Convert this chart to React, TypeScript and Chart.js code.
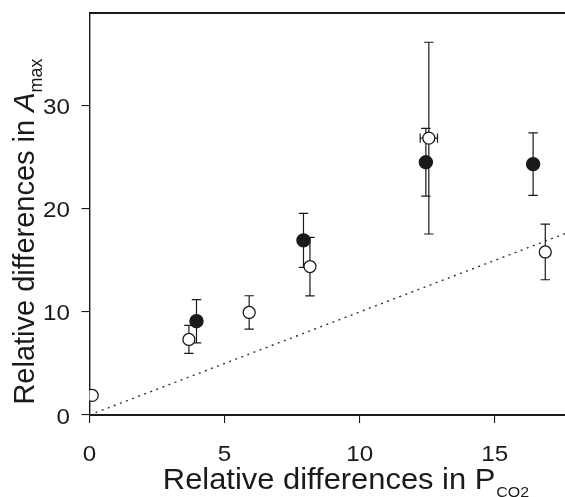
import { useEffect, useRef } from "react";
import { Chart, registerables } from "chart.js";

Chart.register(...registerables);

// ---- data ----
const xTickValues = [0, 5, 10, 15];
const yTickValues = [0, 10, 20, 30];
const xRange = [0, 17.6];
const yRange = [0, 39];

// filled circles
const filledX = [3.96, 7.92, 12.45, 16.42];
const filledY = [9.1, 16.94, 24.52, 24.34];
const filledYErr = [2.1, 2.62, 3.28, 3.03];

// open circles
const openX = [0.1, 3.68, 5.91, 8.16, 12.56, 16.87];
const openY = [1.9, 7.33, 9.95, 14.4, 26.86, 15.82];
const openYErr = [0, 1.36, 1.62, 2.84, 9.3, 2.7];
const openXErr = [0, 0, 0, 0, 0.32, 0];

// 1:1 reference line
const refLineX = [0, 17.6];
const refLineY = [0, 17.6];

const xTitleMain = "Relative differences in P";
const xTitleSub = "CO2";
const yTitleMain = "Relative differences in ";
const yTitleItalic = "A";
const yTitleSub = "max";

const FONT = '"Liberation Sans", Arial, Helvetica, sans-serif';
const INK = "#1a1a1a";

const decorPlugin = {
  id: "decor",
  beforeDatasetsDraw(chart: any) {
    const ctx = chart.ctx;
    const xs = chart.scales.x;
    const ys = chart.scales.y;
    ctx.save();
    ctx.strokeStyle = INK;
    ctx.lineWidth = 1.2;
    const cap = 4.7;
    const drawV = (x: number, y: number, e: number) => {
      if (!e) return;
      const px = xs.getPixelForValue(x);
      const p1 = ys.getPixelForValue(y + e);
      const p2 = ys.getPixelForValue(y - e);
      ctx.beginPath();
      ctx.moveTo(px, p1);
      ctx.lineTo(px, p2);
      ctx.moveTo(px - cap, p1);
      ctx.lineTo(px + cap, p1);
      ctx.moveTo(px - cap, p2);
      ctx.lineTo(px + cap, p2);
      ctx.stroke();
    };
    const drawH = (x: number, y: number, e: number) => {
      if (!e) return;
      const py = ys.getPixelForValue(y);
      const p1 = xs.getPixelForValue(x - e);
      const p2 = xs.getPixelForValue(x + e);
      ctx.beginPath();
      ctx.moveTo(p1, py);
      ctx.lineTo(p2, py);
      ctx.moveTo(p1, py - cap);
      ctx.lineTo(p1, py + cap);
      ctx.moveTo(p2, py - cap);
      ctx.lineTo(p2, py + cap);
      ctx.stroke();
    };
    openX.forEach((x, i) => {
      drawV(x, openY[i], openYErr[i]);
      drawH(x, openY[i], openXErr[i]);
    });
    filledX.forEach((x, i) => drawV(x, filledY[i], filledYErr[i]));
    ctx.restore();
  },
  afterDraw(chart: any) {
    const ctx = chart.ctx;
    const area = chart.chartArea;
    const xs = chart.scales.x;
    const ys = chart.scales.y;
    ctx.save();
    // top frame line
    ctx.strokeStyle = INK;
    ctx.lineWidth = 1.8;
    ctx.beginPath();
    ctx.moveTo(area.left, area.top);
    ctx.lineTo(chart.width, area.top);
    ctx.stroke();

    ctx.fillStyle = INK;
    const sx = 1.1;
    // x tick labels
    ctx.font = `22px ${FONT}`;
    ctx.textBaseline = "alphabetic";
    ctx.textAlign = "center";
    xTickValues.forEach((v) => {
      const px = xs.getPixelForValue(v);
      ctx.save();
      ctx.translate(px, area.bottom + 45.5);
      ctx.scale(sx, 1);
      ctx.fillText(String(v), 0, 0);
      ctx.restore();
    });
    // y tick labels
    ctx.textAlign = "right";
    yTickValues.forEach((v) => {
      const py = ys.getPixelForValue(v);
      ctx.save();
      ctx.translate(area.left - 19.5, py + 8.5);
      ctx.scale(sx, 1);
      ctx.fillText(String(v), 0, 0);
      ctx.restore();
    });

    // x title
    ctx.textAlign = "left";
    const xsx = 1.065;
    ctx.font = `29px ${FONT}`;
    const w1 = ctx.measureText(xTitleMain).width * xsx;
    ctx.font = `15px ${FONT}`;
    const w2 = ctx.measureText(xTitleSub).width * xsx;
    const cx = 345.5;
    const start = cx - (w1 + w2) / 2;
    const base = area.bottom + 74;
    ctx.save();
    ctx.translate(start, base);
    ctx.scale(xsx, 1);
    ctx.font = `29px ${FONT}`;
    ctx.fillText(xTitleMain, 0, 0);
    ctx.restore();
    ctx.save();
    ctx.translate(start + w1 + 1, base + 7.5);
    ctx.scale(xsx, 1);
    ctx.font = `15px ${FONT}`;
    ctx.fillText(xTitleSub, 0, 0);
    ctx.restore();

    // y title (rotated)
    ctx.font = `29px ${FONT}`;
    const m1 = ctx.measureText(yTitleMain).width;
    ctx.font = `italic 29px ${FONT}`;
    const m2 = ctx.measureText(yTitleItalic).width;
    ctx.font = `18px ${FONT}`;
    const m3 = ctx.measureText(yTitleSub).width;
    const total = m1 + m2 + m3;
    const cy = 231.5;
    ctx.save();
    ctx.translate(33.5, cy);
    ctx.rotate(-Math.PI / 2);
    let pos = -total / 2;
    ctx.font = `29px ${FONT}`;
    ctx.fillText(yTitleMain, pos, 0);
    pos += m1;
    ctx.font = `italic 29px ${FONT}`;
    ctx.fillText(yTitleItalic, pos, 0);
    pos += m2;
    ctx.font = `18px ${FONT}`;
    ctx.fillText(yTitleSub, pos, 8.5);
    ctx.restore();

    ctx.restore();
  },
};

export default function App() {
  const ref = useRef<HTMLCanvasElement | null>(null);
  useEffect(() => {
    if (!ref.current) return;
    const chart = new Chart(ref.current, {
      type: "scatter",
      data: {
        datasets: [
          {
            label: "open",
            data: openX.map((x, i) => ({ x, y: openY[i] })),
            backgroundColor: "#ffffff",
            borderColor: INK,
            borderWidth: 1.3,
            pointRadius: 6.0,
            order: 0,
          },
          {
            label: "filled",
            data: filledX.map((x, i) => ({ x, y: filledY[i] })),
            backgroundColor: INK,
            borderColor: INK,
            borderWidth: 1.2,
            pointRadius: 6.6,
            order: 1,
          },
          {
            label: "1:1",
            data: refLineX.map((x, i) => ({ x, y: refLineY[i] })),
            showLine: true,
            borderColor: "#333333",
            borderWidth: 1.4,
            borderDash: [2, 4.5],
            pointRadius: 0,
            order: 2,
          },
        ],
      },
      options: {
        animation: false,
        responsive: false,
        events: [],
        layout: { autoPadding: false, padding: { top: 13, left: 0, right: 0, bottom: 0 } },
        plugins: { legend: { display: false }, tooltip: { enabled: false } },
        scales: {
          x: {
            type: "linear",
            min: xRange[0],
            max: xRange[1],
            afterBuildTicks: (s: any) => {
              s.ticks = xTickValues.map((v) => ({ value: v }));
            },
            afterFit: (s: any) => {
              s.height = 82;
            },
            ticks: { display: false },
            grid: { drawOnChartArea: false, drawTicks: true, tickLength: 8, color: INK, lineWidth: 1.1 },
            border: { color: INK, width: 2 },
          },
          y: {
            type: "linear",
            min: yRange[0],
            max: yRange[1],
            afterBuildTicks: (s: any) => {
              s.ticks = yTickValues.map((v) => ({ value: v }));
            },
            afterFit: (s: any) => {
              s.width = 89.5;
            },
            ticks: { display: false },
            grid: { drawOnChartArea: false, drawTicks: true, tickLength: 8, color: INK, lineWidth: 1.1 },
            border: { color: INK, width: 1.4 },
          },
        },
      },
      plugins: [decorPlugin],
    });
    return () => chart.destroy();
  }, []);
  return (
    <div style={{ position: "absolute", left: 0, top: 0, width: 565, height: 497, background: "#fff" }}>
      <canvas ref={ref} width={565} height={497} style={{ display: "block" }} />
    </div>
  );
}
